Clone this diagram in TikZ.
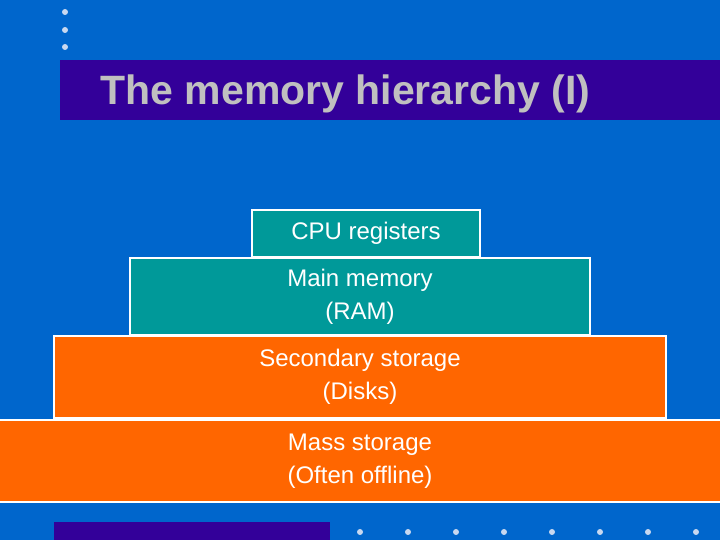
\documentclass[tikz,border=0pt]{standalone}
\usepackage{fontspec}
\setmainfont{Liberation Sans}
\definecolor{bg}{HTML}{0066CC}
\definecolor{tb}{HTML}{330099}
\definecolor{teal1}{HTML}{009999}
\definecolor{org}{HTML}{FF6600}
\definecolor{ttl}{HTML}{C0C0C0}
\definecolor{dot}{HTML}{C8D8F0}
\begin{document}
\begin{tikzpicture}[x=1pt,y=1pt,
  lvl/.style={draw=white,line width=1.5pt,align=center,text=white,font=\fontsize{24}{33}\selectfont,inner sep=0pt},
  dt/.style={fill=dot,circle,inner sep=0pt,minimum size=6pt}]
\fill[bg] (0,0) rectangle (720,540);
\useasboundingbox (0,0) rectangle (720,540);
\foreach \y [count=\i] in {12,30,47} \node[dt] (t\i) at (65,540-\y) {};
\fill[tb] (60,420) rectangle (720,480);
\node[anchor=west,text=ttl,font=\fontsize{41}{44}\selectfont\bfseries] (title) at (97,446) {The memory hierarchy (I)};
\node[lvl,fill=teal1,minimum width=228pt,minimum height=47pt] (cpu) at (366,540-233.5) {CPU registers};
\node[lvl,fill=teal1,minimum width=460pt,minimum height=77pt] (ram) at (360,540-296.5) {Main memory\\(RAM)};
\node[lvl,fill=org,minimum width=612pt,minimum height=82pt] (disk) at (360,540-377) {Secondary storage\\(Disks)};
\node[lvl,fill=org,minimum width=724pt,minimum height=82pt] (mass) at (360,540-461) {Mass storage\\(Often offline)};
\fill[tb] (54,0) rectangle (330,18);
\foreach \x [count=\i] in {360,408,456,504,552,600,648,696} \node[dt] (b\i) at (\x,8) {};
\end{tikzpicture}
\end{document}
